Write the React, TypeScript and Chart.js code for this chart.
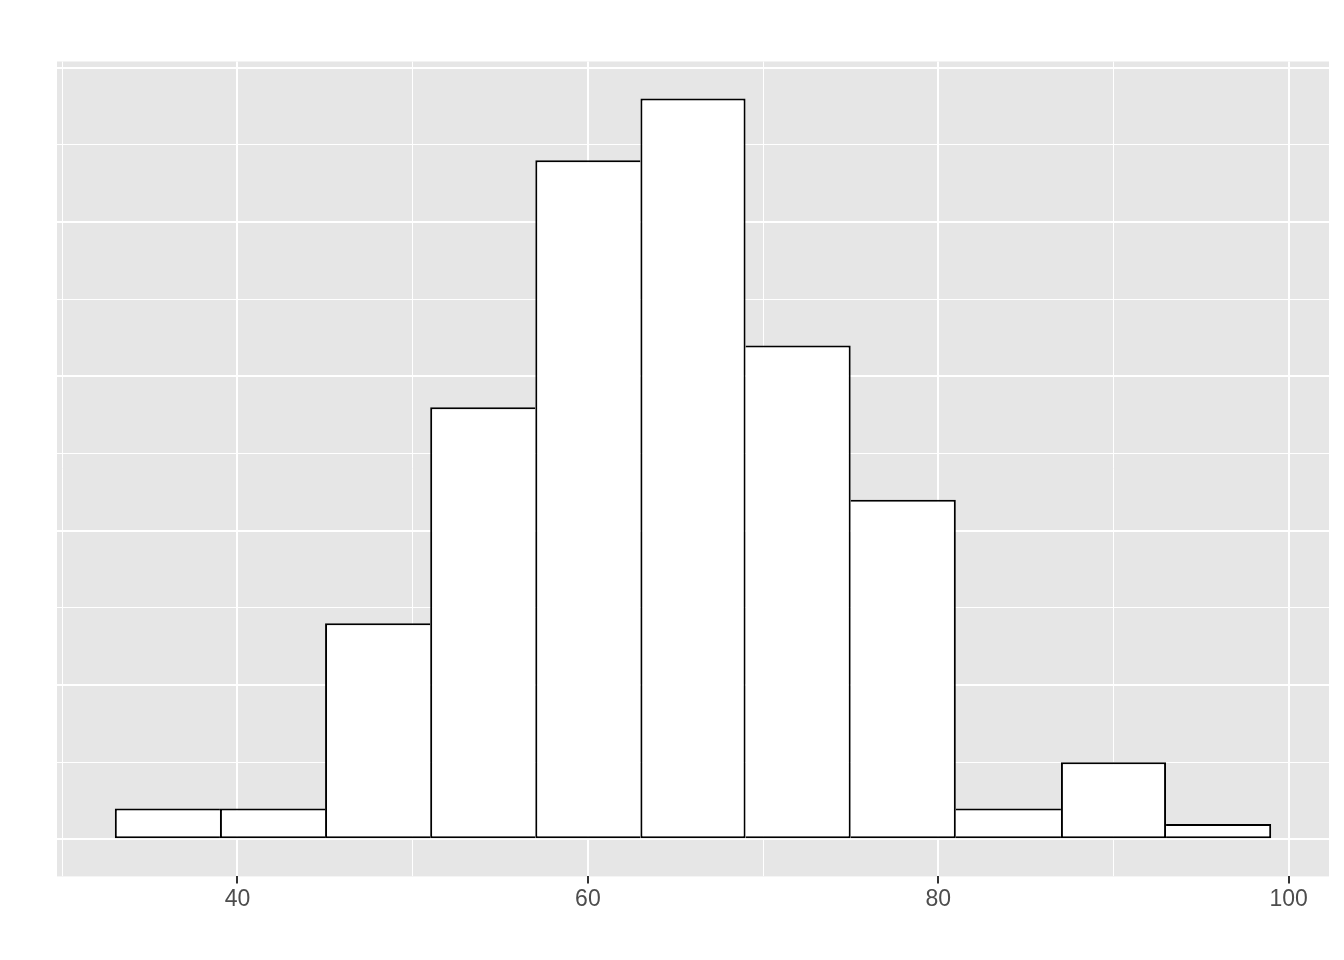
import React, { useEffect, useRef } from "react";
import { Chart, registerables } from "chart.js";

Chart.register(...registerables);

// Histogram bins (left edges), bin width and counts
const binStarts = [33, 39, 45, 51, 57, 63, 69, 75, 81, 87, 93];
const binWidth = 6;
const counts = [2, 2, 14, 28, 44, 48, 32, 22, 2, 5, 1];

// Axis ticks
const xMajorTicks = [40, 60, 80, 100];
const xGridTicks = [30, 40, 50, 60, 70, 80, 90, 100];
const yGridTicks = [0, 5, 10, 15, 20, 25, 30, 35, 40, 45, 50];
const yMajorTicks = [0, 10, 20, 30, 40, 50];

// Scale limits (ggplot-style 5% expansion)
const xMin = 29.7;
const xMax = 102.3;
const yMin = -2.4;
const yMax = 50.4;

const panelBg = {
  id: "panelBg",
  beforeDraw(chart: any) {
    const { ctx, chartArea } = chart;
    if (!chartArea) return;
    ctx.save();
    ctx.fillStyle = "#E6E6E6";
    ctx.fillRect(chartArea.left, chartArea.top, chartArea.width, chartArea.height);
    ctx.restore();
  },
};

export default function App() {
  const canvasRef = useRef<HTMLCanvasElement | null>(null);

  useEffect(() => {
    document.body.style.margin = "0";
    const canvas = canvasRef.current;
    if (!canvas) return;

    const data = binStarts.map((s, i) => ({ x: s + binWidth / 2, y: counts[i] }));

    const chart = new Chart(canvas, {
      type: "bar",
      data: {
        datasets: [
          {
            data: data as any,
            backgroundColor: "#FFFFFF",
            borderColor: "#000000",
            borderSkipped: false,
            inflateAmount: 0,
            barPercentage: 1,
            categoryPercentage: 1,
            borderWidth: (ctx: any) => {
              const i = ctx.dataIndex;
              if (i === undefined || i === null) return 2;
              const h = counts[i];
              const prev = i > 0 ? counts[i - 1] : -1;
              const next = i < counts.length - 1 ? counts[i + 1] : -1;
              return {
                top: 2,
                bottom: 2,
                left: h >= prev ? 2 : 0,
                right: h > next ? 2 : 0,
              };
            },
          } as any,
        ],
      },
      options: {
        responsive: false,
        animation: false,
        layout: { padding: { left: 57, right: 15, top: 61.5, bottom: 45 } },
        plugins: {
          legend: { display: false },
          tooltip: { enabled: false },
        },
        scales: {
          x: {
            type: "linear",
            min: xMin,
            max: xMax,
            offset: false,
            afterBuildTicks: (axis: any) => {
              axis.ticks = xGridTicks.map((v) => ({ value: v }));
            },
            border: { display: false },
            grid: {
              offset: false,
              color: "#FFFFFF",
              lineWidth: (ctx: any) => (xMajorTicks.includes(ctx.tick?.value) ? 2 : 1),
              drawTicks: true,
              tickLength: 7,
              tickWidth: 2,
              tickColor: (ctx: any) =>
                xMajorTicks.includes(ctx.tick?.value) ? "#333333" : "rgba(0,0,0,0)",
            },
            ticks: {
              autoSkip: false,
              maxRotation: 0,
              padding: 2,
              color: "#4D4D4D",
              font: { family: "'Liberation Sans', Arial, sans-serif", size: 23 },
              callback: (value: any) => (xMajorTicks.includes(Number(value)) ? String(value) : ""),
            },
          },
          y: {
            type: "linear",
            min: yMin,
            max: yMax,
            afterBuildTicks: (axis: any) => {
              axis.ticks = yGridTicks.map((v) => ({ value: v }));
            },
            border: { display: false },
            grid: {
              color: "#FFFFFF",
              lineWidth: (ctx: any) => (yMajorTicks.includes(ctx.tick?.value) ? 2 : 1),
              drawTicks: false,
            },
            ticks: { display: false },
          },
        },
      },
      plugins: [panelBg],
    });

    return () => chart.destroy();
  }, []);

  return (
    <div style={{ width: 1344, height: 960, background: "#FFFFFF" }}>
      <canvas ref={canvasRef} width={1344} height={960} style={{ display: "block" }} />
    </div>
  );
}
